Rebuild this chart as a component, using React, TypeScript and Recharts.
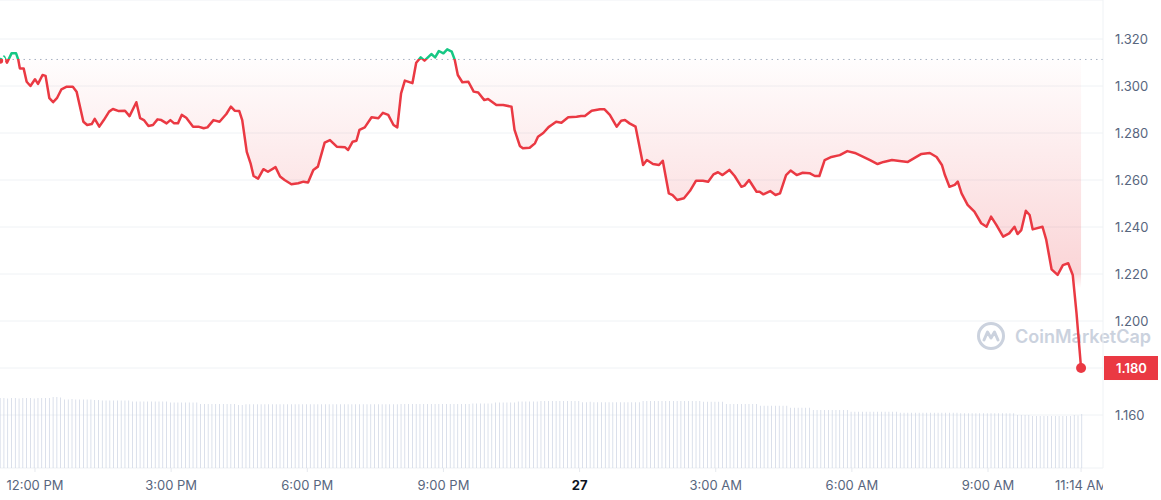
import React from 'react';
import {
    ComposedChart,
    Line,
    Area,
    Bar,
    XAxis,
    YAxis,
    CartesianGrid,
    ReferenceLine,
    ReferenceDot,
} from 'recharts';

// minutes from 12:00 PM (day 26)
const priceTimes = [
    -46, -41, -37, -31, -25, -22, -20, -15, -11, -6, 0, 4, 10, 14, 19, 24, 29, 35, 42, 50, 55,
    64, 69, 75, 79, 85, 91, 98, 103, 110, 119, 125, 134, 139, 144, 150, 156, 162, 167, 174, 179,
    184, 189, 194, 200, 209, 216, 223, 228, 236, 244, 253, 259, 264, 270, 274, 280, 285, 289, 295,
    302, 308, 318, 324, 330, 339, 348, 355, 361, 368, 374, 383, 390, 399, 410, 414, 420, 425, 429,
    436, 445, 454, 460, 467, 474, 479, 484, 489, 499, 504, 510, 515, 524, 529, 534, 540, 545, 551,
    555, 559, 565, 573, 580, 586, 594, 599, 610, 619, 630, 634, 641, 645, 654, 661, 665, 672, 679,
    683, 689, 696, 705, 716, 722, 727, 736, 747, 753, 760, 769, 775, 780, 786, 794, 804, 809, 817,
    825, 830, 838, 843, 849, 858, 866, 874, 883, 890, 897, 903, 909, 918, 925, 934, 938, 944, 954,
    958, 963, 972, 979, 985, 993, 999, 1007, 1015, 1024, 1031, 1037, 1044, 1053, 1064, 1074, 1084,
    1093, 1104, 1114, 1122, 1133, 1143, 1154, 1163, 1172, 1183, 1192, 1199, 1203, 1209, 1216, 1220,
    1225, 1233, 1242, 1251, 1258, 1264, 1271, 1280, 1288, 1295, 1299, 1304, 1310, 1315, 1319, 1332,
    1337, 1344, 1352, 1359, 1366, 1372, 1377, 1383,
];

const priceValues = [
    1.3108, 1.3125, 1.3099, 1.3139, 1.3139, 1.3111, 1.3075, 1.3075, 1.3018, 1.3, 1.3029, 1.3009,
    1.3047, 1.3043, 1.2948, 1.2931, 1.2948, 1.2986, 1.2997, 1.2997, 1.2976, 1.2848, 1.2834, 1.2838,
    1.286, 1.2827, 1.2855, 1.2891, 1.2902, 1.2894, 1.2895, 1.2872, 1.2931, 1.2863, 1.2855, 1.283,
    1.2834, 1.2858, 1.2855, 1.2841, 1.2855, 1.2841, 1.2841, 1.2877, 1.2865, 1.2827, 1.2827, 1.282,
    1.2824, 1.2855, 1.2848, 1.2881, 1.2912, 1.2895, 1.2894, 1.2855, 1.272, 1.2671, 1.2617, 1.2606,
    1.2646, 1.2635, 1.2655, 1.2615, 1.26, 1.2582, 1.2586, 1.2593, 1.2589, 1.2643, 1.2657, 1.2759,
    1.277, 1.2742, 1.2739, 1.2728, 1.2763, 1.2767, 1.2813, 1.2824, 1.2867, 1.2863, 1.2886, 1.2877,
    1.2834, 1.2824, 1.2969, 1.3023, 1.3012, 1.3099, 1.3122, 1.3108, 1.3136, 1.3122, 1.3149, 1.3139,
    1.3156, 1.3146, 1.3111, 1.3047, 1.3016, 1.3018, 1.2976, 1.2972, 1.294, 1.2945, 1.2919, 1.2919,
    1.2912, 1.2813, 1.2745, 1.2735, 1.2737, 1.2756, 1.2784, 1.28, 1.2825, 1.2834, 1.2848, 1.2844,
    1.2867, 1.2869, 1.2872, 1.2872, 1.2895, 1.2901, 1.2901, 1.2877, 1.2827, 1.2852, 1.2855, 1.2841,
    1.2827, 1.2664, 1.2685, 1.2668, 1.2664, 1.2682, 1.2543, 1.2536, 1.2515, 1.2522, 1.2554, 1.2597,
    1.2597, 1.2593, 1.2624, 1.2633, 1.2621, 1.2643, 1.2617, 1.2571, 1.2576, 1.26, 1.255, 1.255,
    1.2539, 1.2553, 1.2536, 1.2543, 1.2621, 1.264, 1.2621, 1.2631, 1.2629, 1.2617, 1.2617, 1.2685,
    1.2698, 1.2706, 1.2723, 1.2715, 1.2702, 1.2685, 1.2668, 1.2677, 1.2685, 1.2681, 1.2677, 1.2694,
    1.2711, 1.2715, 1.2698, 1.2664, 1.2621, 1.2571, 1.2579, 1.2593, 1.2543, 1.2494, 1.2465, 1.2416,
    1.2401, 1.2444, 1.2409, 1.2359, 1.2373, 1.2401, 1.237, 1.2387, 1.2469, 1.2451, 1.239, 1.2401,
    1.2345, 1.222, 1.2196, 1.2238, 1.2246, 1.2196, 1.2033, 1.18,
];

// one bar every 5 minutes, first one at -46 min
const volumeValues = [
    70, 70, 69.5, 70, 70, 69.5, 70, 70, 70, 69.5, 70, 70, 70, 70,
    71, 71, 70.5,
    68.5, 68.5, 69, 68.5, 68.5, 68.5, 68.5, 68.5, 68, 68,
    67.5, 67.5, 67.5, 67.5, 67.5, 67.5, 67.5, 67.5,
    66.5, 66.5, 66.5, 66.5, 66.5, 66.5, 66.5, 66.5, 66.5, 66.5,
    65.5, 65.5, 65.5, 65.5, 65.5, 65.5, 65.5, 65.5,
    64, 64, 64, 64, 64, 64, 64, 64, 64, 64,
    63, 63,
    63.7, 63.7, 63.7, 63.7, 63.7, 63.7, 63.7, 63.7, 63.7, 63.7,
    63.7, 63.7, 63.7, 63.7, 63.7, 63.7, 63.7, 63.7, 63.7, 63.7,
    63.7, 63.7, 63.7, 63.7, 63.7, 63.7, 63.7, 63.7, 63.7, 63.7,
    63.7, 63.7, 63.7, 63.7, 63.7, 63.7, 63.7, 63.7, 63.7, 63.7, 63.7,
    64, 64, 64, 64, 64, 64, 64, 64, 64, 64, 64, 64, 64, 64, 64, 64, 64, 64, 64,
    64.5, 64.5, 64.5, 64.5, 64.5, 64.5, 65.5, 65.5, 65.5, 65.5, 65.5, 65.5,
    66.5, 66.5, 66.5, 66.5, 66.5, 66.5,
    67, 67, 67, 67, 67, 67, 67, 67, 67, 67, 67,
    65.7, 65.7, 66.3, 65.7, 65.7, 65.7, 65.7, 65.7, 65.7, 65.7, 65.7, 65.7, 65.7, 65.7, 65.7, 65.7,
    67, 67, 67, 67, 67, 67, 67, 67, 67, 67, 67, 67, 67, 67, 67, 67,
    66.3, 66.3, 66.3, 66.3, 66.3, 66.3,
    64, 64, 64, 64, 64, 64, 64, 64, 64,
    62.3, 62.3, 62.3, 62.3, 62.3, 62.3, 62.3, 62.3,
    60.3, 60.3, 60.3, 60.3, 60.3, 60.3,
    58, 58, 58, 58, 58, 58, 58, 58, 58, 58,
    56.3, 56.3, 56.3, 56.3, 56.3, 56.3, 56.3, 56.3, 56.3, 56.3, 56.3, 56.3, 56.3,
    55.3, 55.3, 55.3, 55.3, 55.3, 55.3, 55.3, 55.3, 55.3, 55.3, 55.3, 55.3, 55.3, 55.3, 55.3, 55.3,
    54.7, 54.7, 54.7, 54.7, 54.7, 54.7, 54.7, 54.7, 54.7, 54.7, 54.7, 54.7, 54.7, 54.7, 54.7,
    53, 53, 53, 53,
    52, 52, 52, 52, 52, 52, 52, 52, 52, 52, 52,
    53, 52.5, 54,
];

const xTickTimes = [0, 180, 360, 540, 720, 900, 1080, 1260, 1383];
const xTickLabels = ['12:00 PM', '3:00 PM', '6:00 PM', '9:00 PM', '27', '3:00 AM', '6:00 AM', '9:00 AM', '11:14 AM'];
const yTicks = [1.16, 1.18, 1.2, 1.22, 1.24, 1.26, 1.28, 1.3, 1.32];
const openPrice = 1.3113;

const RED = '#ea3943';
const GREEN = '#16c784';
const TEXT = '#58667e';
const Y_MIN = 1.13745;
const Y_MAX = 1.3366;
const PLOT_H = 468;
const PLOT_W = 1103;

const lastPrice = priceValues[priceValues.length - 1];
const lastTime = priceTimes[priceTimes.length - 1];

const priceRows = priceTimes.map((t, i) => ({ t, price: priceValues[i] }));
const volumeRows = volumeValues.map((v, i) => ({ t: -46 + i * 5, volume: v }));

const refPix = ((Y_MAX - openPrice) / (Y_MAX - Y_MIN)) * PLOT_H;

const XTick = (props: any) => {
    const { x, y, payload } = props;
    const label = xTickLabels[xTickTimes.indexOf(payload.value)];
    const bold = label === '27';
    return (
        <g clipPath="url(#xclip)">
            <text x={x} y={y} dy="0.71em" textAnchor="middle" fill={bold ? '#0d1421' : TEXT}
                  fontWeight={bold ? 700 : 400} fontSize={13} fontFamily="Inter">
                {label}
            </text>
        </g>
    );
};

const YTick = (props: any) => {
    const { x, y, payload } = props;
    if (Math.abs(payload.value - lastPrice) < 1e-6) return <g />;
    return (
        <text x={x} y={y} dy="0.355em" textAnchor="start" fill={TEXT} fontSize={13} fontFamily="Inter">
            {payload.value.toFixed(3)}
        </text>
    );
};

const PriceTag = (props: any) => {
    const { x, y, width } = props.viewBox;
    const left = x + width + 1;
    return (
        <g>
            <rect x={left} y={y - 12} width={54} height={24} fill={RED} />
            <text x={left + 12} y={y} dy="0.355em" fill="#fff" fontSize={13} fontWeight={600} fontFamily="Inter">
                {lastPrice.toFixed(3)}
            </text>
        </g>
    );
};

const Watermark = () => (
    <div style={{ position: 'absolute', left: 976, top: 321, display: 'flex', alignItems: 'center',
                  gap: 9, color: '#cbd2de', fontSize: 18, fontWeight: 600, fontFamily: 'Inter' }}>
        <svg width={30} height={30} viewBox="0 0 30 30">
            <circle cx={15} cy={15} r={12.5} stroke="#cbd2de" strokeWidth={3} fill="none" />
            <path d="M8 19 L11.5 11 L15 17 L18.5 11 L22 19" stroke="#cbd2de" strokeWidth={3}
                  fill="none" strokeLinejoin="round" strokeLinecap="round" />
        </svg>
        <span>CoinMarketCap</span>
    </div>
);

const App = () => (
    <div style={{ position: 'absolute', left: 0, top: 0, width: 1161, height: 500, background: '#fff' }}>
        <Watermark />
        <div style={{ position: 'relative' }}>
            <ComposedChart width={1161} height={500} data={volumeRows}
                           margin={{ top: 0, right: 0, left: 0, bottom: 0 }}>
                <defs>
                    <clipPath id="xclip">
                        <rect x={0} y={0} width={PLOT_W} height={500} />
                    </clipPath>
                    <linearGradient id="lineStroke" gradientUnits="userSpaceOnUse" x1={0} y1={0} x2={0} y2={PLOT_H}>
                        <stop offset={refPix / PLOT_H} stopColor={GREEN} />
                        <stop offset={refPix / PLOT_H} stopColor={RED} />
                    </linearGradient>
                    <linearGradient id="fillRed" gradientUnits="userSpaceOnUse" x1={0} y1={refPix} x2={0} y2={288}>
                        <stop offset={0} stopColor={RED} stopOpacity={0.01} />
                        <stop offset={0.93} stopColor={RED} stopOpacity={0.21} />
                        <stop offset={1} stopColor={RED} stopOpacity={0} />
                    </linearGradient>
                </defs>
                <CartesianGrid yAxisId="price" vertical={false} stroke="#eff2f5" />
                <XAxis dataKey="t" type="number" domain={[-46.25, 1412]} allowDataOverflow
                       ticks={xTickTimes} interval={0} axisLine={false}
                       tickLine={{ stroke: '#e6e9ee' }} tickSize={4} tickMargin={9}
                       height={32} tick={<XTick />} />
                <YAxis yAxisId="price" orientation="right" width={58} domain={[Y_MIN, Y_MAX]}
                       allowDataOverflow ticks={yTicks} interval={0} axisLine={{ stroke: '#eff2f5' }}
                       tickLine={false} tickMargin={6} tick={<YTick />} />
                <YAxis yAxisId="vol" hide domain={[0, PLOT_H]} />
                <Bar yAxisId="vol" dataKey="volume" fill="#cad2e2" barSize={2.2} isAnimationActive={false} />
                <Area data={priceRows} yAxisId="price" dataKey="price" type="linear" baseValue={openPrice}
                      stroke="none" fill="url(#fillRed)" fillOpacity={1} isAnimationActive={false} />
                <ReferenceLine yAxisId="price" y={openPrice} stroke="#a7b1c2" strokeDasharray="1.5 4" />
                <Line data={priceRows} yAxisId="price" dataKey="price" type="linear" stroke="url(#lineStroke)"
                      strokeWidth={2.5} strokeLinejoin="round" dot={false} isAnimationActive={false} />
                <ReferenceDot yAxisId="price" x={lastTime} y={lastPrice} r={5} fill={RED} stroke="none" />
                <ReferenceLine yAxisId="price" y={lastPrice} stroke="none" label={(p: any) => <PriceTag {...p} />} />
            </ComposedChart>
        </div>
    </div>
);

export default App;
